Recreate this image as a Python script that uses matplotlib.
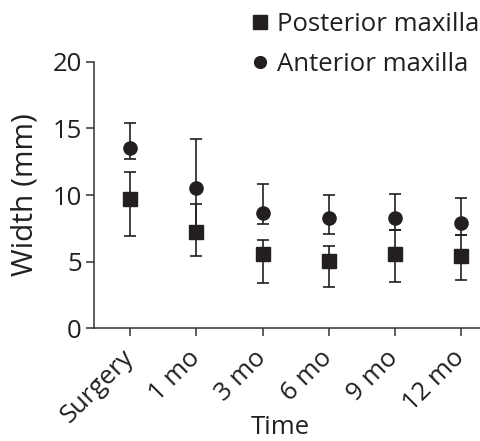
import matplotlib
matplotlib.use("Agg")
import matplotlib.pyplot as plt
from matplotlib.lines import Line2D
import numpy as np

plt.rcParams['font.family'] = ['Open Sans', 'DejaVu Sans']

categories = ["Surgery", "1 mo", "3 mo", "6 mo", "9 mo", "12 mo"]
anterior_mean = [13.5, 10.5, 8.65, 8.3, 8.3, 7.9]
anterior_upper = [15.4, 14.2, 10.8, 10.0, 10.1, 9.8]
anterior_lower = [12.7, 7.3, 7.8, 7.1, 7.4, 7.0]
posterior_mean = [9.7, 7.25, 5.55, 5.05, 5.55, 5.4]
posterior_upper = [11.75, 9.3, 6.6, 6.2, 7.4, 7.0]
posterior_lower = [6.9, 5.4, 3.4, 3.1, 3.5, 3.6]
yticks = [0, 5, 10, 15, 20]

ink = "#231f20"
fs = 18.5
fig = plt.figure(figsize=(4.81, 4.41), dpi=100)
ax = fig.add_axes([0.1948, 0.2556, 0.8052, 0.6044])

x = np.arange(len(categories))
am = np.array(anterior_mean); pm = np.array(posterior_mean)
a_err = [am - np.array(anterior_lower), np.array(anterior_upper) - am]
p_err = [pm - np.array(posterior_lower), np.array(posterior_upper) - pm]

ax.errorbar(x, am, yerr=a_err, fmt='none', ecolor=ink, elinewidth=1.2, capsize=4, capthick=1.2, zorder=2)
ax.errorbar(x, pm, yerr=p_err, fmt='none', ecolor=ink, elinewidth=1.2, capsize=4, capthick=1.2, zorder=2)
ax.plot(x, pm, linestyle='none', marker='s', markersize=10.5, color=ink, zorder=3)
ax.plot(x, am, linestyle='none', marker='o', markersize=9.5, color=ink, zorder=3)

ax.set_xlim(-0.55, 5.3)
ax.set_ylim(0, 20)
ax.set_yticks(yticks)
ax.set_xticks(x)
ax.set_xticklabels(categories, rotation=45, ha='right', va='center', rotation_mode='anchor')
ax.tick_params(axis='both', direction='out', length=5.5, width=1.1, color='#333333',
               labelsize=fs, labelcolor=ink, pad=3)
ax.tick_params(axis='x', pad=13)
for s in ['top', 'right']:
    ax.spines[s].set_visible(False)
for s in ['left', 'bottom']:
    ax.spines[s].set_linewidth(1.1)
    ax.spines[s].set_color('#333333')
ax.spines['left'].set_bounds(0, 20)
ax.set_ylabel("Width (mm)", fontsize=21.5, color=ink, va='center')
ax.yaxis.set_label_coords(-0.178, 0.5)
ax.set_xlabel("Time", fontsize=fs, color=ink, va='center')
ax.xaxis.set_label_coords(0.481, -0.374)

handles = [Line2D([], [], linestyle='none', marker='s', markersize=10, color=ink),
           Line2D([], [], linestyle='none', marker='o', markersize=8.5, color=ink)]
fig.legend(handles, ["Posterior maxilla", "Anterior maxilla"], loc='upper right',
           bbox_to_anchor=(1.044, 1.025), frameon=False, fontsize=fs, handlelength=0.8,
           handletextpad=0.25, labelspacing=0.58, labelcolor=ink)

fig.savefig("out.png", dpi=100, facecolor='white')
